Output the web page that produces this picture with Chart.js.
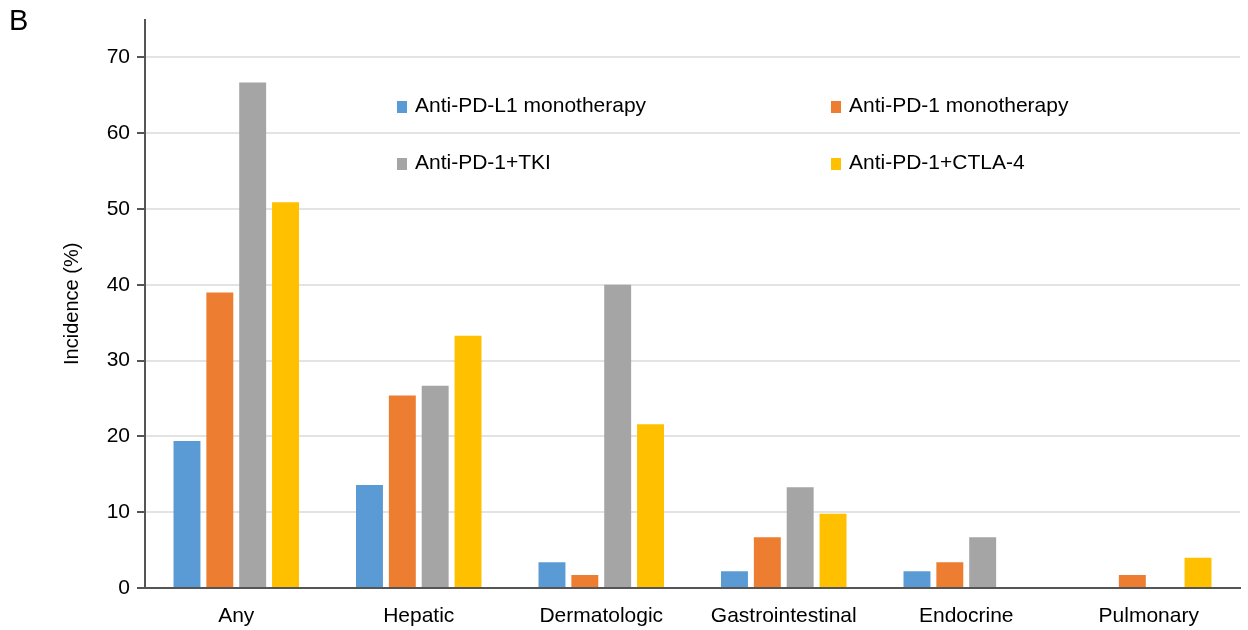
<!DOCTYPE html>
<html>
<head>
<meta charset="utf-8">
<script src="https://cdn.jsdelivr.net/npm/chart.js@4"></script>
<style>
  html, body { margin: 0; padding: 0; background: #fff; }
  #wrap { position: relative; width: 1248px; height: 630px; font-family: "Liberation Sans", Arial, sans-serif; }
  #panel { position: absolute; left: 9px; top: 4px; font-size: 29px; color: #000; }
  .leg { position: absolute; font-size: 21px; line-height: 24px; color: #000; white-space: nowrap; }
  .leg span { display: inline-block; width: 10px; height: 12px; margin-right: 8px; vertical-align: -1px; }
</style>
</head>
<body>
<div id="wrap">
  <canvas id="grafico" width="1248" height="630"></canvas>
  <div id="panel">B</div>
  <div id="legenda"></div>
</div>
<script>
const categorias = ['Any', 'Hepatic', 'Dermatologic', 'Gastrointestinal', 'Endocrine', 'Pulmonary'];
const antiPDL1 = [19.4, 13.6, 3.4, 2.2, 2.2, 0];
const antiPD1 = [39.0, 25.4, 1.7, 6.7, 3.4, 1.7];
const antiPD1TKI = [66.7, 26.7, 40.0, 13.3, 6.7, 0];
const antiPD1CTLA4 = [50.9, 33.3, 21.6, 9.8, 0, 4.0];
const ticksY = [0, 10, 20, 30, 40, 50, 60, 70];

const series = [
  { label: 'Anti-PD-L1 monotherapy', data: antiPDL1, color: '#5B9BD5' },
  { label: 'Anti-PD-1 monotherapy', data: antiPD1, color: '#ED7D31' },
  { label: 'Anti-PD-1+TKI', data: antiPD1TKI, color: '#A5A5A5' },
  { label: 'Anti-PD-1+CTLA-4', data: antiPD1CTLA4, color: '#FFC000' }
];

// legenda em duas colunas dentro do gráfico
const posLegenda = [[397, 93], [831, 93], [397, 150], [831, 150]];
const legenda = document.getElementById('legenda');
series.forEach((s, i) => {
  const d = document.createElement('div');
  d.className = 'leg';
  d.style.left = posLegenda[i][0] + 'px';
  d.style.top = posLegenda[i][1] + 'px';
  d.innerHTML = '<span style="background:' + s.color + '"></span>' + s.label;
  legenda.appendChild(d);
});

const ctx = document.getElementById('grafico').getContext('2d');
new Chart(ctx, {
  type: 'bar',
  data: {
    labels: categorias,
    datasets: series.map(s => ({
      label: s.label,
      data: s.data,
      backgroundColor: s.color,
      borderWidth: 0,
      categoryPercentage: 0.72,
      barPercentage: 0.82
    }))
  },
  options: {
    responsive: false,
    animation: false,
    layout: { padding: { top: 19, right: 8, left: 0, bottom: 0 } },
    plugins: {
      legend: { display: false },
      tooltip: { enabled: false }
    },
    scales: {
      x: {
        grid: { display: false, drawTicks: false },
        border: { color: '#555', width: 2 },
        ticks: { color: '#000', font: { family: 'Liberation Sans', size: 21 }, padding: 16 },
        afterFit: s => { s.height = 42; }
      },
      y: {
        min: 0,
        max: 75,
        afterBuildTicks: s => { s.ticks = ticksY.map(v => ({ value: v })); },
        grid: {
          color: ctx => ctx.tick && ctx.tick.value === 0 ? 'rgba(0,0,0,0)' : '#e3e3e3',
          lineWidth: 2,
          tickColor: '#555',
          tickLength: 8,
          tickWidth: 2
        },
        border: { color: '#555', width: 2 },
        ticks: { color: '#000', font: { family: 'Liberation Sans', size: 21 }, padding: 7 },
        title: {
          display: true,
          text: 'Incidence (%)',
          color: '#000',
          font: { family: 'Liberation Sans', size: 20 },
          padding: { top: 60, bottom: 0 }
        },
        afterFit: s => { s.width = 145; }
      }
    }
  }
});
</script>
</body>
</html>
